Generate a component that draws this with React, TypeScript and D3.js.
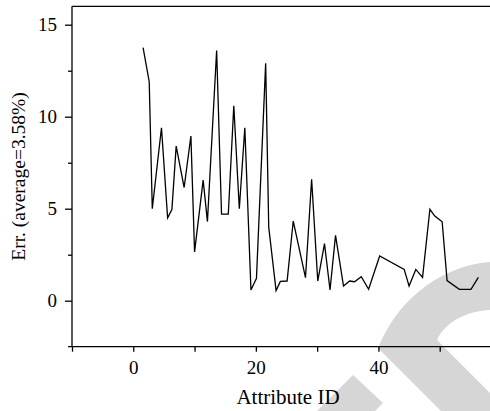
import * as d3 from 'd3';
import { useEffect, useRef } from 'react';

// attribute IDs (x) and error values (y)
const attrIds = [
  1.6, 2.6, 3.1, 4.6, 5.6, 6.3, 7.0, 8.3, 9.4, 10.0, 11.4, 12.1, 13.6, 14.4, 15.5,
  16.4, 17.3, 18.2, 19.2, 20.1, 21.6, 22.1, 23.3, 24.0, 25.1, 26.1, 28.1, 29.1,
  30.1, 31.2, 32.1, 33.0, 34.3, 35.3, 36.1, 37.2, 38.4, 40.2, 44.2, 45.0, 46.1,
  47.2, 48.4, 49.2, 50.4, 51.2, 53.2, 55.1, 56.3,
];
const errValues = [
  13.75, 11.9, 5.0, 9.4, 4.5, 4.95, 8.4, 6.15, 8.95, 2.65, 6.55, 4.3, 13.6, 4.7, 4.7,
  10.6, 5.0, 9.4, 0.58, 1.22, 12.9, 4.0, 0.55, 1.05, 1.07, 4.33, 1.25, 6.6,
  1.07, 3.1, 0.58, 3.55, 0.8, 1.07, 1.03, 1.3, 0.62, 2.43, 1.7, 0.8, 1.7,
  1.27, 4.97, 4.6, 4.29, 1.09, 0.62, 0.62, 1.27,
];

const xMajor = [0, 20, 40];
const xMinor = [-10, 10, 30, 50];
const yMajor = [0, 5, 10, 15];
const yMinor = [2.5, 7.5, 12.5];

const width = 490;
const height = 411;
const margin = { top: 6.3, left: 72, bottom: 64.3 };
const font = 'Times New Roman, Liberation Serif, serif';

function App() {
  const xAxis = useRef<SVGGElement>(null);
  const xAxisMinor = useRef<SVGGElement>(null);
  const yAxis = useRef<SVGGElement>(null);
  const yAxisMinor = useRef<SVGGElement>(null);

  const x = d3.scaleLinear().domain([-10, 60]).range([margin.left, 501]);
  const y = d3.scaleLinear().domain([-2.5, 16]).range([height - margin.bottom, margin.top]);

  const line = d3.line<number>()
    .x((_, i) => x(attrIds[i]))
    .y((d) => y(d));

  useEffect(() => {
    const style = (g: d3.Selection<SVGGElement, unknown, null, undefined>) => {
      g.attr('font-family', font).attr('font-size', 19);
      g.select('.domain').remove();
      g.selectAll('line').attr('stroke', '#000').attr('stroke-width', 1.3);
      g.selectAll('text').attr('fill', '#000');
    };
    d3.select(xAxis.current!)
      .call(d3.axisBottom(x).tickValues(xMajor).tickFormat(d3.format('d')).tickSize(5).tickPadding(9))
      .call(style);
    d3.select(xAxisMinor.current!)
      .call(d3.axisBottom(x).tickValues(xMinor).tickFormat(() => '').tickSize(5))
      .call(style);
    d3.select(yAxis.current!)
      .call(d3.axisLeft(y).tickValues(yMajor).tickFormat(d3.format('d')).tickSize(7).tickPadding(8))
      .call(style);
    d3.select(yAxisMinor.current!)
      .call(d3.axisLeft(y).tickValues(yMinor).tickFormat(() => '').tickSize(4))
      .call(style);
  }, []);

  const bottom = height - margin.bottom;

  return (
    <svg width={width} height={height} fontFamily={font}
      style={{ position: 'absolute', left: 0, top: 0, background: '#fff' }}>
      {/* watermark */}
      <g fill="#d6d6d6">
        <path d="M317,411 L353,375 L383,403 L375,411 Z" />
        <path d="M490,262 C448,265 400,293 378,348 L441,411 L490,411 L490,393 L437,340 C445,323 465,311 490,310 Z" />
      </g>

      <line x1={margin.left} x2={width} y1={margin.top} y2={margin.top} stroke="#000" strokeWidth={1.3} />
      <line x1={margin.left} x2={margin.left} y1={margin.top} y2={bottom} stroke="#000" strokeWidth={1.3} />
      <line x1={margin.left - 4} x2={width} y1={bottom} y2={bottom} stroke="#000" strokeWidth={1.3} />

      <g ref={xAxis} transform={`translate(0, ${bottom})`} />
      <g ref={xAxisMinor} transform={`translate(0, ${bottom})`} />
      <g ref={yAxis} transform={`translate(${margin.left}, 0)`} />
      <g ref={yAxisMinor} transform={`translate(${margin.left}, 0)`} />

      <path d={line(errValues) ?? ''} fill="none" stroke="#000" strokeWidth={1.3} strokeLinejoin="miter" />

      <text x={288} y={404} textAnchor="middle" fontSize={21}>Attribute ID</text>
      <text transform={`translate(25, ${(margin.top + bottom) / 2}) rotate(-90)`} textAnchor="middle"
        fontSize={19.5}>Err. (average=3.58%)</text>
    </svg>
  );
}

export default App;
